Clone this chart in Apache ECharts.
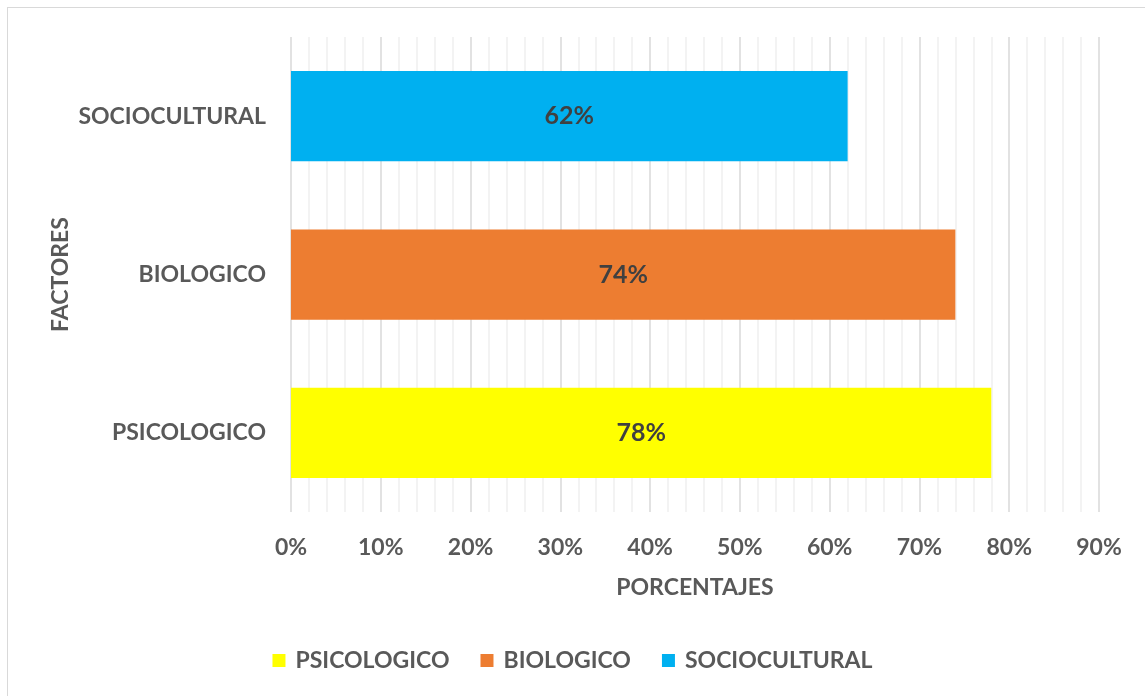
<!DOCTYPE html>
<html>
<head>
<meta charset="utf-8">
<script src="https://cdn.jsdelivr.net/npm/echarts@6/dist/echarts.min.js"></script>
<style>
html,body{margin:0;padding:0;background:#fff;}
#frame{position:absolute;left:7px;top:7px;width:1150px;height:700px;border:1px solid #d9d9d9;box-sizing:border-box;}
#chart{position:absolute;left:0;top:0;width:1145px;height:696px;}
</style>
</head>
<body>
<div id="frame"></div>
<div id="chart"></div>
<script>
const categories = ['PSICOLOGICO', 'BIOLOGICO', 'SOCIOCULTURAL'];
const seriesNames = ['PSICOLOGICO', 'BIOLOGICO', 'SOCIOCULTURAL'];
const values = [78, 74, 62];
const colors = ['#FFFF00', '#ED7D31', '#00B0F0'];
const xTicks = [0, 10, 20, 30, 40, 50, 60, 70, 80, 90];

const font = 'Lato, "Open Sans", sans-serif';
const series = seriesNames.map((name, i) => ({
  name: name,
  type: 'bar',
  stack: 'all',
  barWidth: '57%',
  itemStyle: { color: colors[i] },
  label: {
    show: true, position: 'inside',
    formatter: p => p.value + '%',
    color: '#404040', fontFamily: font, fontWeight: 'bold', fontSize: 25
  },
  data: categories.map((c, j) => j === i ? values[i] : null)
}));

const chart = echarts.init(document.getElementById('chart'), null, {renderer: 'canvas'});
chart.setOption({
  animation: false,
  textStyle: { fontFamily: font },
  grid: { left: 291, right: 46, top: 37, bottom: 184 },
  legend: {
    bottom: 19, left: 'center',
    itemWidth: 13, itemHeight: 13, itemGap: 31,
    icon: 'rect',
    textStyle: { color: '#595959', fontFamily: font, fontWeight: 'bold', fontSize: 23, padding: [0, 0, 0, 5] },
    data: seriesNames
  },
  xAxis: {
    type: 'value', min: xTicks[0], max: xTicks[xTicks.length - 1], interval: 10,
    name: 'PORCENTAJES', nameLocation: 'middle', nameGap: 64,
    nameMoveOverlap: false,
    nameTextStyle: { color: '#595959', fontFamily: font, fontWeight: 'bold', fontSize: 23 },
    axisLine: { show: false }, axisTick: { show: false },
    axisLabel: { margin: 24, color: '#595959', fontFamily: font, fontWeight: 'bold', fontSize: 23, formatter: v => v + '%' },
    splitLine: { show: true, lineStyle: { color: '#d9d9d9', width: 1.5 } },
    minorTick: { show: false, splitNumber: 5 },
    minorSplitLine: { show: true, lineStyle: { color: '#f0f0f0', width: 1.5 } }
  },
  yAxis: {
    type: 'category', data: categories,
    name: 'FACTORES', nameLocation: 'middle', nameGap: 219, nameRotate: 90,
    nameMoveOverlap: false,
    nameTextStyle: { color: '#595959', fontFamily: font, fontWeight: 'bold', fontSize: 23 },
    axisLine: { show: false }, axisTick: { show: false },
    axisLabel: { margin: 25, color: '#595959', fontFamily: font, fontWeight: 'bold', fontSize: 23 }
  },
  series: series
});
</script>
</body>
</html>
